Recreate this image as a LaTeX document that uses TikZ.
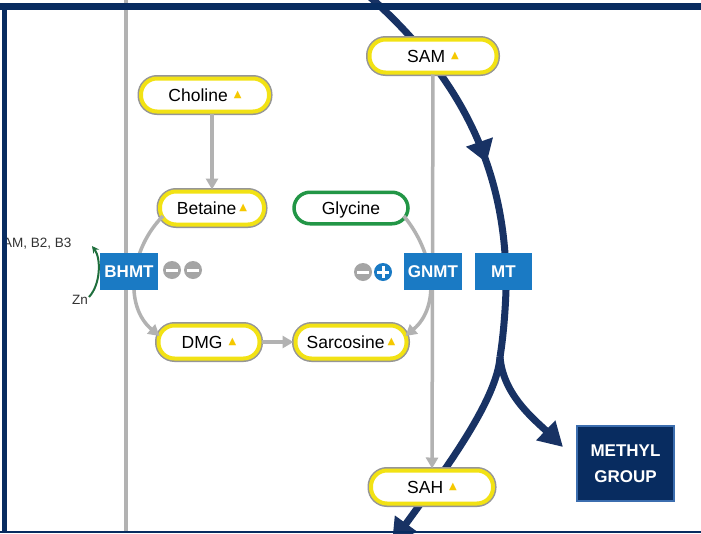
\documentclass[tikz,border=0pt]{standalone}
\usepackage{fontspec}
\setmainfont{Liberation Sans}
\newfontfamily\symbolfont{DejaVu Sans}
\usetikzlibrary{arrows.meta,decorations.markings}

\definecolor{framenavy}{RGB}{8,44,96}
\definecolor{curvenavy}{RGB}{24,50,100}
\definecolor{enzblue}{RGB}{26,122,196}
\definecolor{pillyellow}{RGB}{242,226,20}
\definecolor{pillgray}{RGB}{150,150,150}
\definecolor{linegray}{RGB}{178,178,178}
\definecolor{signgray}{RGB}{165,165,165}
\definecolor{glygreen}{RGB}{34,150,70}
\definecolor{zngreen}{RGB}{30,110,60}
\definecolor{triyellow}{RGB}{245,200,0}
\definecolor{boxedge}{RGB}{60,110,175}

\newcommand{\uptri}[1][6pt]{\hspace{#1}{\symbolfont\fontsize{10}{10}\selectfont\color{triyellow}\raisebox{4pt}{▲}}}

\tikzset{
  pill/.style={rounded corners=16pt, minimum height=33pt, inner sep=0pt,
    fill=white, draw=pillyellow, line width=4pt,
    preaction={draw=pillgray, line width=7pt},
    font=\fontsize{17.5}{20}\selectfont},
  greenpill/.style={rounded corners=16pt, minimum height=31.5pt, inner sep=0pt,
    fill=white, draw=glygreen, line width=3.5pt, text depth=0pt,
    font=\fontsize{17.5}{20}\selectfont},
  enzyme/.style={fill=enzblue, text=white, minimum width=58pt, minimum height=37pt,
    inner sep=0pt, font=\bfseries\fontsize{17}{20}\selectfont},
  grayarrow/.style={draw=linegray, line width=3.5pt, -{Triangle[width=12pt,length=11pt]}},
  curve/.style={draw=curvenavy, line width=7pt},
  minussign/.style={circle, fill=signgray, minimum size=18pt, inner sep=0pt,
    path picture={\draw[white, line width=3pt]
      ([xshift=-6pt]path picture bounding box.center) -- ([xshift=6pt]path picture bounding box.center);}},
  plussign/.style={circle, fill=enzblue, minimum size=18pt, inner sep=0pt,
    path picture={\draw[white, line width=3pt]
      ([xshift=-6pt]path picture bounding box.center) -- ([xshift=6pt]path picture bounding box.center)
      ([yshift=-6pt]path picture bounding box.center) -- ([yshift=6pt]path picture bounding box.center);}},
}

\begin{document}
\begin{tikzpicture}[x=1pt,y=1pt]

  \useasboundingbox (0,0) rectangle (701,-533);
  \clip (0,0) rectangle (701,-533);
  \fill[white] (0,0) rectangle (701,-533);

  % gray guide lines
  \draw[linegray, line width=4pt] (126,0) -- (126,-533);

  % methyl transfer curve
  \coordinate (fork) at (500,-357);
  \coordinate (methyltip) at (563,-447);
  \coordinate (lowtip) at (392,-543);
  \draw[curve, postaction={decorate}, decoration={markings,
      mark=at position 205pt with {\arrow{Triangle[width=27pt,length=22pt]}}}]
    (370,3) .. controls (452,-70) and (508,-160) .. (506,-290)
            .. controls (505,-320) and (502,-345) .. (fork);
  \draw[curve, -{Triangle[width=26pt,length=24pt]}]
    (fork) .. controls (503,-395) and (535,-420) .. (methyltip);
  \draw[curve, -{Triangle[width=26pt,length=24pt]}]
    (fork) .. controls (497,-400) and (445,-470) .. (lowtip);

  % metabolites
  \node[pill, minimum width=128pt] (choline) at (205,-95) {Choline\uptri};
  \node[pill, minimum width=104pt] (betaine) at (212,-208) {Betaine\uptri[3pt]};
  \node[greenpill, minimum width=114pt] (glycine) at (351,-208) {Glycine};
  \node[pill, minimum width=127pt] (sam) at (433,-56) {SAM\uptri};
  \node[pill, minimum width=101pt] (dmg) at (209,-342) {DMG\uptri};
  \node[pill, minimum width=111pt] (sarcosine) at (351,-342) {Sarcosine\uptri[3pt]};
  \node[pill, minimum width=122pt] (sah) at (432,-487) {SAH\uptri};

  % reactions
  \draw[grayarrow] (betaine.north |- choline.south) -- (betaine.north);
  \draw[grayarrow] (sam) -- (sah);
  \draw[grayarrow] ([xshift=5pt,yshift=-8pt]betaine.west) to[out=225,in=140] ([xshift=3pt,yshift=6pt]dmg.west);
  \draw[grayarrow] ([xshift=-6pt,yshift=-8pt]glycine.east) to[out=-50,in=40] ([xshift=-3pt,yshift=6pt]sarcosine.east);
  \draw[grayarrow] (dmg.east) -- (sarcosine.west);

  % enzymes
  \node[enzyme] (bhmt) at (129,-271.5) {BHMT};
  \node[enzyme] (gnmt) at (433,-271.5) {GNMT};
  \node[enzyme, minimum width=57pt] (mt) at (503.5,-271.5) {MT};
  \node[minussign] (bminus1) at (172,-270) {};
  \node[minussign] (bminus2) at (193,-270) {};
  \node[minussign] (gminus) at (363,-272) {};
  \node[plussign] (gplus) at (383,-272) {};

  % cofactors
  \node[anchor=west, text=black!80, font=\fontsize{13.5}{15}\selectfont, inner sep=0pt] (cofactors) at (3,-244) {AM, B2, B3};
  \node[text=black!80, font=\fontsize{13.5}{15}\selectfont, inner sep=0pt] (zn) at (80,-300) {Zn};
  \coordinate (znstart) at (89,-297);
  \coordinate (znend) at (92,-246);
  \draw[zngreen, line width=2pt, -{Stealth[width=7pt,length=7pt]}]
    (znstart) .. controls (101,-284) and (101,-258) .. (znend);

  % product
  \node[fill=framenavy, draw=boxedge, line width=2pt, text=white, align=center,
    minimum width=97pt, minimum height=75pt, inner sep=0pt,
    font=\bfseries\fontsize{17}{26}\selectfont] (methyl) at (625.5,-463.5) {METHYL\\GROUP};

  % frame
  \fill[framenavy] (0,-3) rectangle (701,-9.5);
  \fill[framenavy] (1.5,-3) rectangle (7,-533);
  \fill[framenavy] (0,-530.5) rectangle (701,-533);

\end{tikzpicture}
\end{document}
